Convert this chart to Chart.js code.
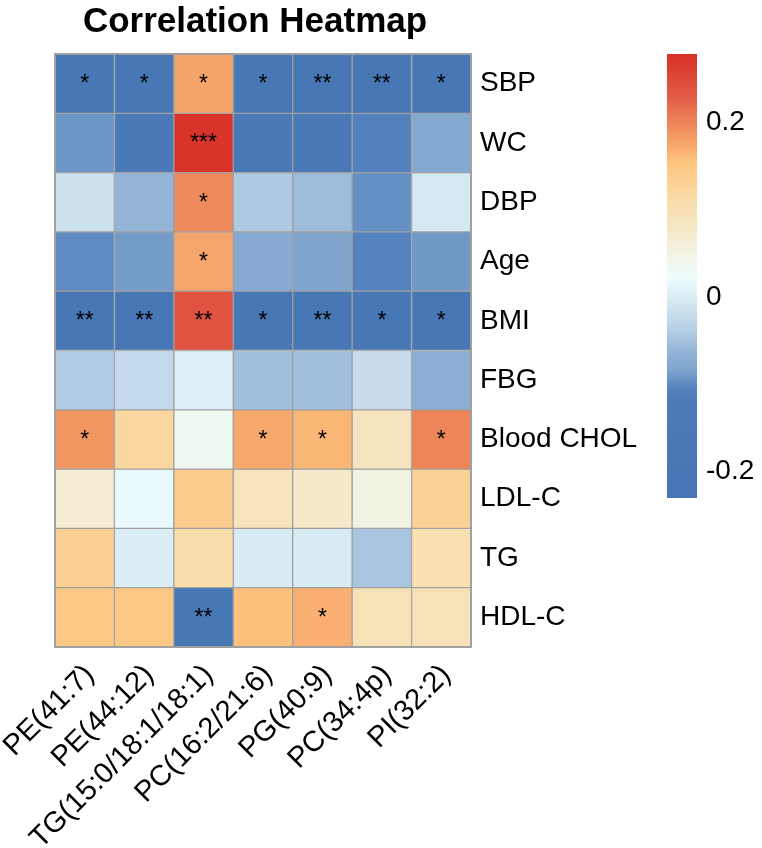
<!DOCTYPE html>
<html>
<head>
<meta charset="utf-8">
<script src="https://cdn.jsdelivr.net/npm/chart.js@4/dist/chart.umd.min.js"></script>
<style>
  html, body { margin: 0; padding: 0; background: #ffffff; }
  #wrap { position: relative; width: 762px; height: 848px; overflow: hidden; }
  #title { position: absolute; left: 0; top: -1px; width: 510px; text-align: center;
           font: bold 35px "Liberation Sans", Arial, sans-serif; line-height: 42px; color: #000; }
  #main { position: absolute; left: 0; top: 0; }
  #bar { position: absolute; left: 600px; top: 0; }
</style>
</head>
<body>
<div id="wrap">
  <canvas id="main" width="762" height="848"></canvas>
  <canvas id="bar" width="162" height="848"></canvas>
  <div id="title">Correlation Heatmap</div>
</div>
<script>
// ---- data ----
const columns = ["PE(41:7)", "PE(44:12)", "TG(15:0/18:1/18:1)", "PC(16:2/21:6)", "PG(40:9)", "PC(34:4p)", "PI(32:2)"];
const rows = ["SBP", "WC", "DBP", "Age", "BMI", "FBG", "Blood CHOL", "LDL-C", "TG", "HDL-C"];
const corr = [
  [-0.19, -0.19, 0.178, -0.19, -0.20, -0.20, -0.19],   // SBP
  [-0.093, -0.15, 0.275, -0.15, -0.15, -0.108, -0.078], // WC
  [-0.016, -0.062, 0.196, -0.043, -0.055, -0.097, -0.007], // DBP
  [-0.100, -0.089, 0.176, -0.076, -0.083, -0.106, -0.091], // Age
  [-0.20, -0.20, 0.240, -0.19, -0.20, -0.19, -0.19],   // BMI
  [-0.042, -0.025, 0.003, -0.052, -0.052, -0.020, -0.070], // FBG
  [0.188, 0.120, 0.035, 0.175, 0.165, 0.088, 0.200],   // Blood CHOL
  [0.065, 0.018, 0.140, 0.090, 0.075, 0.050, 0.130],   // LDL-C
  [0.133, 0.000, 0.108, -0.002, -0.002, -0.048, 0.100], // TG
  [0.148, 0.148, -0.20, 0.156, 0.170, 0.095, 0.095]    // HDL-C
];
const signif = [
  ["*", "*", "*", "*", "**", "**", "*"],
  ["", "", "***", "", "", "", ""],
  ["", "", "*", "", "", "", ""],
  ["", "", "*", "", "", "", ""],
  ["**", "**", "**", "*", "**", "*", "*"],
  ["", "", "", "", "", "", ""],
  ["*", "", "", "*", "*", "", "*"],
  ["", "", "", "", "", "", ""],
  ["", "", "", "", "", "", ""],
  ["", "", "**", "", "*", "", ""]
];
const colorbarTicks = [-0.2, 0, 0.2];
const colorMin = -0.231, colorMax = 0.279;

// ---- colour map ----
const stops = [
  [-0.231, "#4575B4"], [-0.118, "#4C7BB8"], [-0.105, "#5583BE"], [-0.084, "#7EA4CD"],
  [-0.061, "#96B6D8"], [-0.038, "#B5CFE5"], [-0.003, "#D8EBF4"], [0.022, "#EEFDFD"],
  [0.043, "#F1F6EA"], [0.077, "#F5E8C8"], [0.111, "#F9DCA8"], [0.154, "#FDC57F"],
  [0.192, "#F0905E"], [0.226, "#E4604A"], [0.279, "#D73027"]
];
function hex2rgb(h) { return [1, 3, 5].map(i => parseInt(h.substr(i, 2), 16)); }
function colorFor(v) {
  if (v <= stops[0][0]) return stops[0][1];
  for (let i = 1; i < stops.length; i++) {
    if (v <= stops[i][0]) {
      const [v0, c0] = stops[i - 1], [v1, c1] = stops[i];
      const t = (v - v0) / (v1 - v0);
      const a = hex2rgb(c0), b = hex2rgb(c1);
      return "rgb(" + a.map((x, k) => Math.round(x + (b[k] - x) * t)).join(",") + ")";
    }
  }
  return stops[stops.length - 1][1];
}

const FONT = '"Liberation Sans", Arial, sans-serif';

const starPlugin = {
  id: "stars",
  afterDatasetsDraw(chart) {
    const ctx = chart.ctx;
    ctx.save();
    ctx.font = "23px " + FONT;
    ctx.fillStyle = "#000";
    ctx.textAlign = "center";
    ctx.textBaseline = "middle";
    rows.forEach((r, ri) => {
      const meta = chart.getDatasetMeta(ri);
      meta.data.forEach((el, ci) => {
        const s = signif[ri][ci];
        if (s) ctx.fillText(s, el.x, (el.y + el.base) / 2 + 1);
      });
    });
    const a = chart.chartArea;
    ctx.strokeStyle = "#A0A0A0";
    ctx.lineWidth = 2;
    ctx.strokeRect(a.left, a.top, a.right - a.left, a.bottom - a.top);
    ctx.restore();
  }
};

new Chart(document.getElementById("main"), {
  type: "bar",
  data: {
    labels: columns,
    datasets: rows.map((r, ri) => ({
      label: r,
      data: columns.map(() => [ri, ri + 1]),
      backgroundColor: corr[ri].map(colorFor),
      borderColor: "#A0A0A0",
      borderWidth: 1,
      borderSkipped: false,
      barPercentage: 1,
      categoryPercentage: 1,
      grouped: false
    }))
  },
  options: {
    responsive: false,
    devicePixelRatio: 1,
    animation: false,
    layout: { padding: { left: 55, top: 54, right: 100, bottom: 0 } },
    plugins: { legend: { display: false }, tooltip: { enabled: false }, title: { display: false } },
    scales: {
      x: {
        type: "category",
        position: "bottom",
        offset: true,
        grid: { display: false, drawTicks: false },
        border: { display: false },
        ticks: { minRotation: 45, maxRotation: 45, autoSkip: false, padding: 11, labelOffset: 5,
                 color: "#000", font: { family: FONT, size: 29 } },
        afterFit(s) { s.height = 201; s.paddingLeft = 0; s.paddingRight = 0; }
      },
      y: {
        type: "linear",
        position: "right",
        min: 0, max: 10, reverse: true,
        grid: { display: false, drawTicks: false },
        border: { display: false },
        afterBuildTicks(s) { s.ticks = rows.map((_, i) => ({ value: i + 0.5 })); },
        ticks: { autoSkip: false, padding: 9, color: "#000", font: { family: FONT, size: 28 },
                 callback: (v) => rows[Math.floor(v)] },
        afterFit(s) { s.width = 191; s.paddingTop = 0; s.paddingBottom = 0; }
      }
    }
  },
  plugins: [starPlugin]
});

new Chart(document.getElementById("bar"), {
  type: "bar",
  data: {
    labels: ["scale"],
    datasets: [{
      data: [[colorMin, colorMax]],
      backgroundColor(c) {
        const chart = c.chart;
        if (!chart.chartArea) return "#ffffff";
        const ys = chart.scales.y;
        const g = chart.ctx.createLinearGradient(0, ys.getPixelForValue(colorMin), 0, ys.getPixelForValue(colorMax));
        stops.forEach(([v, col]) => g.addColorStop((v - colorMin) / (colorMax - colorMin), col));
        return g;
      },
      borderWidth: 0,
      barPercentage: 1,
      categoryPercentage: 1
    }]
  },
  options: {
    responsive: false,
    devicePixelRatio: 1,
    animation: false,
    layout: { padding: { left: 67, top: 54, right: 0, bottom: 350 } },
    plugins: { legend: { display: false }, tooltip: { enabled: false } },
    scales: {
      x: { display: false },
      y: {
        type: "linear",
        position: "right",
        min: colorMin, max: colorMax,
        grid: { display: false, drawTicks: false },
        border: { display: false },
        afterBuildTicks(s) { s.ticks = colorbarTicks.map(v => ({ value: v })); },
        ticks: { padding: 9, color: "#000", font: { family: FONT, size: 28 },
                 callback: (v) => String(Math.round(v * 10) / 10) },
        afterFit(s) { s.width = 65; s.paddingTop = 0; s.paddingBottom = 0; }
      }
    }
  }
});
</script>
</body>
</html>
